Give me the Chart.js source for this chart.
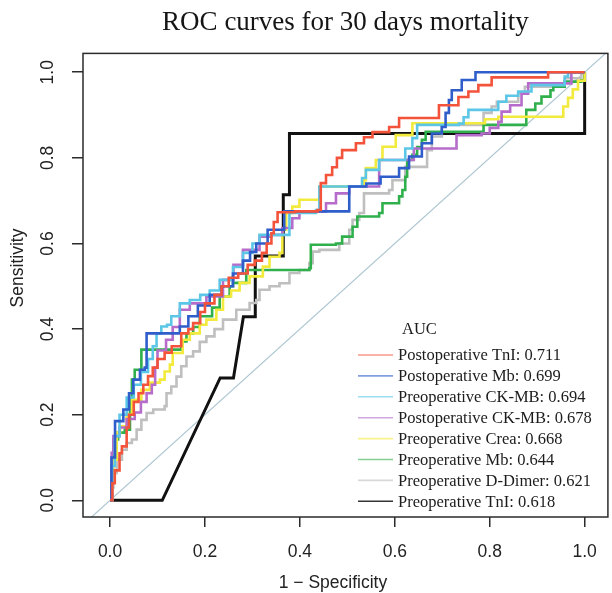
<!DOCTYPE html>
<html>
<head>
<meta charset="utf-8">
<script src="https://cdn.jsdelivr.net/npm/chart.js@4.4.1/dist/chart.umd.min.js"></script>
<style>
  html, body { margin: 0; padding: 0; background: #fff; }
  canvas { display: block; }
</style>
</head>
<body>
<canvas id="roc" width="612" height="593"></canvas>
<script>
// markers and their AUC, in legend order
const markers = ['Postoperative TnI', 'Postoperative Mb', 'Preoperative CK-MB', 'Postoperative CK-MB',
  'Preoperative Crea', 'Preoperative Mb', 'Preoperative D-Dimer', 'Preoperative TnI'];
const aucValues = ['0.711', '0.699', '0.694', '0.678', '0.668', '0.644', '0.621', '0.618'];
const tickValues = [0, 0.2, 0.4, 0.6, 0.8, 1.0];

// ROC points as [1 - specificity, sensitivity]
const postTnI = [[0,0],[0.005,0.04],[0.01,0.07],[0.02,0.11],[0.025,0.126],[0.035,0.17],[0.04,0.2],[0.05,0.23],
  [0.06,0.25],[0.07,0.27],[0.08,0.29],[0.09,0.31],[0.1,0.33],[0.115,0.345],[0.13,0.36],[0.15,0.39],[0.165,0.4],
  [0.175,0.414],[0.19,0.44],[0.2,0.46],[0.22,0.48],[0.235,0.5],[0.25,0.52],[0.27,0.53],[0.29,0.55],[0.305,0.56],
  [0.32,0.578],[0.33,0.6],[0.34,0.624],[0.345,0.65],[0.353,0.673],[0.39,0.675],[0.437,0.678],[0.444,0.741],
  [0.455,0.76],[0.468,0.778],[0.478,0.8],[0.489,0.818],[0.518,0.834],[0.535,0.848],[0.553,0.86],[0.588,0.872],
  [0.609,0.893],[0.693,0.895],[0.693,0.923],[0.734,0.942],[0.755,0.955],[0.776,0.97],[0.804,0.988],[0.923,0.988],
  [0.923,1.0],[1,1]];
const postMb = [[0,0],[0.003,0.1],[0.0105,0.185],[0.028,0.185],[0.028,0.212],[0.04,0.25],[0.049,0.282],[0.063,0.305],
  [0.073,0.31],[0.077,0.39],[0.147,0.39],[0.147,0.406],[0.165,0.43],[0.185,0.455],[0.21,0.48],[0.235,0.5],
  [0.259,0.53],[0.28,0.56],[0.295,0.58],[0.308,0.6],[0.332,0.632],[0.357,0.632],[0.367,0.675],[0.504,0.675],
  [0.504,0.733],[0.54,0.74],[0.57,0.756],[0.609,0.776],[0.63,0.803],[0.657,0.834],[0.678,0.857],[0.699,0.872],
  [0.707,0.905],[0.714,0.935],[0.72,0.958],[0.741,0.982],[0.77,1.0],[1,1]];
const preCKMB = [[0,0],[0.005,0.08],[0.01,0.15],[0.02,0.2],[0.035,0.24],[0.05,0.27],[0.065,0.3],[0.08,0.33],
  [0.09,0.36],[0.098,0.39],[0.108,0.406],[0.12,0.41],[0.129,0.43],[0.147,0.46],[0.168,0.468],[0.19,0.48],
  [0.21,0.49],[0.231,0.515],[0.259,0.545],[0.28,0.578],[0.3,0.6],[0.315,0.62],[0.357,0.62],[0.378,0.671],
  [0.434,0.678],[0.441,0.733],[0.531,0.753],[0.539,0.772],[0.567,0.795],[0.595,0.795],[0.622,0.822],
  [0.637,0.846],[0.647,0.877],[0.735,0.88],[0.745,0.895],[0.755,0.912],[0.818,0.931],[0.835,0.945],
  [0.86,0.955],[0.888,0.97],[0.958,0.99],[0.965,1.0],[1,1]];
const postCKMB = [[0,0],[0.0035,0.111],[0.007,0.15],[0.02,0.17],[0.035,0.19],[0.052,0.205],[0.065,0.23],
  [0.077,0.25],[0.088,0.27],[0.095,0.31],[0.1,0.35],[0.118,0.375],[0.132,0.405],[0.147,0.445],[0.168,0.46],
  [0.203,0.476],[0.238,0.515],[0.26,0.55],[0.28,0.585],[0.315,0.616],[0.34,0.62],[0.363,0.636],[0.384,0.659],
  [0.399,0.675],[0.455,0.694],[0.476,0.717],[0.504,0.721],[0.504,0.733],[0.567,0.733],[0.567,0.795],
  [0.63,0.795],[0.64,0.822],[0.73,0.822],[0.73,0.853],[0.783,0.857],[0.8,0.87],[0.818,0.884],[0.825,0.908],
  [0.843,0.923],[0.867,0.95],[0.881,0.974],[0.965,0.974],[0.972,1.0],[1,1]];
const preCrea = [[0,0],[0.004,0.06],[0.007,0.095],[0.014,0.158],[0.021,0.173],[0.035,0.2],[0.046,0.235],
  [0.066,0.258],[0.084,0.275],[0.105,0.282],[0.115,0.301],[0.126,0.317],[0.132,0.344],[0.153,0.375],
  [0.168,0.39],[0.189,0.41],[0.203,0.422],[0.224,0.445],[0.238,0.476],[0.255,0.49],[0.273,0.508],
  [0.294,0.523],[0.322,0.546],[0.336,0.569],[0.357,0.578],[0.363,0.632],[0.371,0.671],[0.384,0.686],
  [0.399,0.702],[0.427,0.702],[0.441,0.706],[0.441,0.733],[0.525,0.733],[0.535,0.748],[0.539,0.776],
  [0.56,0.795],[0.574,0.826],[0.602,0.853],[0.637,0.881],[0.776,0.881],[0.79,0.89],[0.818,0.896],
  [0.944,0.896],[0.955,0.92],[0.965,0.94],[0.975,0.96],[0.986,0.98],[0.993,0.98],[1,1]];
const preMb = [[0,0],[0.003,0.08],[0.007,0.142],[0.017,0.158],[0.031,0.165],[0.042,0.235],[0.046,0.282],
  [0.052,0.305],[0.066,0.352],[0.137,0.352],[0.15,0.371],[0.161,0.39],[0.175,0.405],[0.189,0.43],[0.203,0.43],
  [0.215,0.45],[0.231,0.476],[0.252,0.5],[0.259,0.508],[0.287,0.538],[0.42,0.542],[0.423,0.597],[0.476,0.6],
  [0.489,0.616],[0.511,0.639],[0.521,0.663],[0.567,0.671],[0.574,0.694],[0.609,0.71],[0.616,0.725],
  [0.622,0.756],[0.626,0.795],[0.637,0.807],[0.647,0.825],[0.657,0.842],[0.665,0.861],[0.776,0.861],
  [0.787,0.877],[0.877,0.877],[0.877,0.912],[0.896,0.927],[0.909,0.943],[0.928,0.958],[0.934,0.966],
  [0.958,0.978],[0.993,0.981],[1,1]];
const preDDimer = [[0,0],[0.003,0.03],[0.007,0.064],[0.014,0.095],[0.025,0.118],[0.035,0.134],[0.046,0.142],
  [0.056,0.165],[0.066,0.188],[0.077,0.204],[0.091,0.212],[0.115,0.22],[0.119,0.25],[0.129,0.266],[0.14,0.289],
  [0.15,0.313],[0.161,0.336],[0.175,0.348],[0.189,0.37],[0.203,0.383],[0.22,0.4],[0.238,0.422],[0.266,0.445],
  [0.294,0.461],[0.308,0.468],[0.315,0.492],[0.336,0.5],[0.357,0.507],[0.378,0.531],[0.399,0.538],[0.42,0.554],
  [0.427,0.581],[0.441,0.585],[0.462,0.585],[0.483,0.6],[0.504,0.632],[0.511,0.655],[0.525,0.671],
  [0.535,0.717],[0.588,0.725],[0.595,0.748],[0.622,0.779],[0.664,0.779],[0.668,0.818],[0.678,0.85],
  [0.699,0.865],[0.699,0.877],[0.776,0.877],[0.787,0.905],[0.804,0.92],[0.815,0.931],[0.86,0.951],
  [0.874,0.966],[0.958,0.986],[0.993,0.997],[1,1]];
const preTnI = [[0,0],[0.11,0],[0.232,0.286],[0.26,0.286],[0.281,0.429],[0.306,0.429],[0.306,0.571],
  [0.365,0.571],[0.365,0.714],[0.378,0.714],[0.378,0.857],[1,0.857],[1,0.98],[1,1]];
const chanceLine = [[-0.1,-0.1],[1.1,1.1]];

const curves = [postTnI, postMb, preCKMB, postCKMB, preCrea, preMb, preDDimer, preTnI];
const colors = ['#F4533B', '#2F5ECB', '#5CC6E6', '#B56CCA', '#F2EA3C', '#2FB04C', '#BFBFBF', '#111111'];

const SANS = '"Liberation Sans", Arial, sans-serif';
const SERIF = '"Liberation Serif", "Times New Roman", serif';

const toPoints = arr => arr.map(([x, y]) => ({ x, y }));

const datasets = curves.map((c, i) => ({
  label: markers[i] + ': ' + aucValues[i],
  data: toPoints(c),
  borderColor: colors[i],
  borderWidth: i === 7 ? 3 : 2.6,
  stepped: i === 7 ? false : true,
  showLine: true,
  pointRadius: 0,
  tension: 0
}));
datasets.push({
  label: 'chance',
  data: toPoints(chanceLine),
  borderColor: '#AFC7D3',
  borderWidth: 1.2,
  showLine: true,
  pointRadius: 0
});

// box round the plot region
const frame = {
  id: 'frame',
  afterDraw(chart) {
    const { ctx, chartArea: a } = chart;
    ctx.save();
    ctx.strokeStyle = '#2b2b2b';
    ctx.lineWidth = 1.5;
    ctx.strokeRect(a.left, a.top, a.right - a.left, a.bottom - a.top);
    ctx.restore();
  }
};

// axis titles, placed like the R figure
const axisTitles = {
  id: 'axisTitles',
  afterDraw(chart) {
    const ctx = chart.ctx;
    ctx.save();
    ctx.fillStyle = '#222';
    ctx.font = '17.5px ' + SANS;
    ctx.textAlign = 'center';
    ctx.textBaseline = 'middle';
    ctx.fillText('1 \u2212 Specificity', 333, 583);
    ctx.translate(18, 268);
    ctx.rotate(-Math.PI / 2);
    ctx.fillText('Sensitivity', 0, 0);
    ctx.restore();
  }
};

// legend inside the plot, bottom right
const aucLegend = {
  id: 'aucLegend',
  afterDraw(chart) {
    const ctx = chart.ctx;
    ctx.save();
    ctx.font = '16.5px ' + SERIF;
    ctx.fillStyle = '#1c1c1c';
    ctx.textAlign = 'left';
    ctx.textBaseline = 'middle';
    ctx.fillText('AUC', 402, 330);
    markers.forEach((m, i) => {
      const ds = chart.data.datasets[i];
      const y = 355 + i * 20.9;
      ctx.strokeStyle = ds.borderColor;
      ctx.globalAlpha = i === 7 ? 0.85 : 0.6;
      ctx.lineWidth = 1.6;
      ctx.beginPath();
      ctx.moveTo(358, y);
      ctx.lineTo(393, y);
      ctx.stroke();
      ctx.globalAlpha = 1;
      ctx.fillText(ds.label, 398, y + 1);
    });
    ctx.restore();
  }
};

const tickGrid = {
  display: true,
  drawOnChartArea: false,
  drawTicks: true,
  tickLength: 11,
  color: '#2b2b2b',
  lineWidth: 1.5
};

new Chart(document.getElementById('roc'), {
  type: 'scatter',
  data: { datasets },
  options: {
    responsive: false,
    animation: false,
    layout: { padding: { left: 0, right: 2, top: 0, bottom: 0 } },
    plugins: {
      legend: { display: false },
      tooltip: { enabled: false },
      title: {
        display: true,
        text: 'ROC curves for 30 days mortality',
        fullSize: false,
        color: '#151515',
        font: { family: SERIF, size: 27, weight: 'normal', lineHeight: 1.2 },
        padding: { top: 7, bottom: 14 }
      }
    },
    scales: {
      x: {
        type: 'linear',
        min: -0.057,
        max: 1.049,
        grid: { ...tickGrid, tickLength: 10 },
        border: { display: false },
        afterBuildTicks: s => { s.ticks = tickValues.map(v => ({ value: v })); },
        afterFit: s => { s.height = 76; },
        ticks: {
          includeBounds: false,
          autoSkip: false,
          maxRotation: 0,
          padding: 15,
          color: '#222',
          font: { family: SANS, size: 17.5 },
          callback: v => Number(v).toFixed(1)
        }
      },
      y: {
        type: 'linear',
        min: -0.039,
        max: 1.044,
        grid: tickGrid,
        border: { display: false },
        afterBuildTicks: s => { s.ticks = tickValues.map(v => ({ value: v })); },
        afterFit: s => { s.width = 83; },
        ticks: {
          includeBounds: false,
          autoSkip: false,
          minRotation: 90,
          maxRotation: 90,
          crossAlign: 'center',
          padding: 12,
          color: '#222',
          font: { family: SANS, size: 17.5 },
          callback: v => Number(v).toFixed(1)
        }
      }
    }
  },
  plugins: [frame, axisTitles, aucLegend]
});
</script>
</body>
</html>
